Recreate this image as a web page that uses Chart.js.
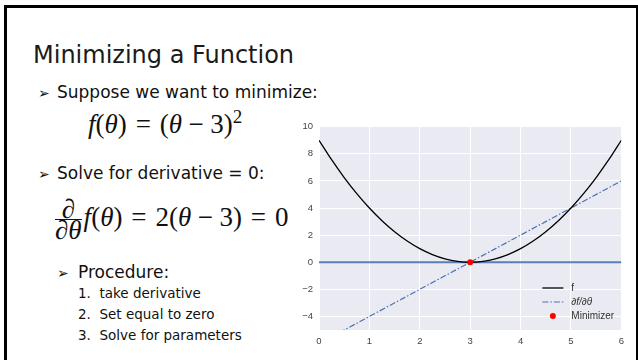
<!DOCTYPE html>
<html>
<head>
<meta charset="utf-8">
<script src="https://cdn.jsdelivr.net/npm/chart.js@4.4.1/dist/chart.umd.min.js"></script>
<style>
  html, body { margin: 0; padding: 0; background: #fff; }
  body { width: 638px; height: 360px; position: relative; overflow: hidden; font-family: "DejaVu Sans", sans-serif; color: #111; }
  .frame { position: absolute; left: 4px; top: 5px; width: 629px; height: 400px; border-left: 3px solid #000; border-top: 3px solid #000; border-right: 2px solid #000; }
  .t { position: absolute; white-space: nowrap; line-height: 1; }
  .title { left: 33px; top: 43px; font-size: 24px; color: #1a1a1a; }
  .b { font-size: 17px; }
  .arrow { position: absolute; font-size: 14px; line-height: 1; }
  .m { font-family: "Liberation Serif", serif; font-size: 27px; }
  .m i { font-style: italic; }
  .rel { margin: 0 0.33em; }
  .bin { margin: 0 0.24em; }
  .li { font-size: 13.5px; }
  .frac { display: inline-block; vertical-align: middle; text-align: center; margin-right: 2px; }
  .frac span { display: block; line-height: 20px; }
  .frac .num { border-bottom: 1px solid #111; }
  #plot { position: absolute; left: 290px; top: 115px; }
</style>
</head>
<body>
<div class="frame"></div>
<div class="t title">Minimizing a Function</div>
<div class="t arrow" style="left:38px;top:86px;">&#x27A2;</div>
<div class="t b" style="left:57px;top:84px;">Suppose we want to minimize:</div>
<div class="t m" style="left:88px;top:107px;"><i>f</i>(<i>θ</i>)<span class="rel">=</span>(<i>θ</i><span class="bin">−</span>3)<sup style="font-size:19px;">2</sup></div>
<div class="t arrow" style="left:38px;top:167px;">&#x27A2;</div>
<div class="t b" style="left:57px;top:165px;">Solve for derivative = 0:</div>
<div class="t m" style="left:55px;top:199px;"><span class="frac"><span class="num">∂</span><span><i>∂θ</i></span></span><i>f</i>(<i>θ</i>)<span class="rel">=</span>2(<i>θ</i><span class="bin">−</span>3)<span class="rel">=</span>0</div>
<div class="t arrow" style="left:57px;top:266px;">&#x27A2;</div>
<div class="t b" style="left:78px;top:264px;">Procedure:</div>
<div class="t li" style="left:78px;top:287px;">1.&nbsp;&nbsp;take derivative</div>
<div class="t li" style="left:78px;top:308px;">2.&nbsp;&nbsp;Set equal to zero</div>
<div class="t li" style="left:78px;top:329px;">3.&nbsp;&nbsp;Solve for parameters</div>
<canvas id="plot" width="340" height="235"></canvas>
<script>
// parameter grid and loss values f(theta) = (theta - 3)^2
const theta = [0, 0.25, 0.5, 0.75, 1, 1.25, 1.5, 1.75, 2, 2.25, 2.5, 2.75, 3,
               3.25, 3.5, 3.75, 4, 4.25, 4.5, 4.75, 5, 5.25, 5.5, 5.75, 6];
const fVals = [9, 7.5625, 6.25, 5.0625, 4, 3.0625, 2.25, 1.5625, 1, 0.5625, 0.25, 0.0625, 0,
               0.0625, 0.25, 0.5625, 1, 1.5625, 2.25, 3.0625, 4, 5.0625, 6.25, 7.5625, 9];
// derivative 2(theta - 3), a straight line
const dTheta = [0, 6];
const dVals = [-6, 6];
// horizontal zero line
const zeroTheta = [0, 6];
const zeroVals = [0, 0];
// minimizer point
const minTheta = [3];
const minVals = [0];

const xTicks = [0, 1, 2, 3, 4, 5, 6];
const yTicks = [-4, -2, 0, 2, 4, 6, 8, 10];

const pts = (xs, ys) => xs.map((x, i) => ({ x: x, y: ys[i] }));

const plotBg = {
    id: 'plotBg',
    beforeDraw(chart) {
        const { ctx, chartArea: a } = chart;
        ctx.save();
        ctx.fillStyle = '#EAEAF2';
        ctx.fillRect(a.left, a.top, a.right - a.left, a.bottom - a.top);
        ctx.restore();
    }
};

// legend drawn inside the plot, lower right
const innerLegend = {
    id: 'innerLegend',
    afterDraw(chart) {
        const { ctx, chartArea: a } = chart;
        const ds = chart.data.datasets;
        const x0 = a.right - 79, x1 = a.right - 58, tx = a.right - 50;
        const rows = [a.bottom - 42, a.bottom - 28, a.bottom - 14];
        ctx.save();
        ctx.textBaseline = 'middle';
        [0, 1, 3].forEach((di, r) => {
            const d = ds[di];
            const y = rows[r];
            if (d.showLine === false) {
                ctx.beginPath();
                ctx.fillStyle = d.backgroundColor;
                ctx.arc((x0 + x1) / 2, y, d.pointRadius, 0, Math.PI * 2);
                ctx.fill();
            } else {
                ctx.beginPath();
                ctx.strokeStyle = d.borderColor;
                ctx.lineWidth = d.borderWidth;
                ctx.setLineDash(d.borderDash || []);
                ctx.moveTo(x0, y);
                ctx.lineTo(x1, y);
                ctx.stroke();
                ctx.setLineDash([]);
            }
            ctx.fillStyle = '#333';
            ctx.font = (d.legendItalic ? 'italic ' : '') + '10px "Liberation Sans", Arial, sans-serif';
            ctx.fillText(d.label, tx, y);
        });
        ctx.restore();
    }
};

new Chart(document.getElementById('plot'), {
    type: 'line',
    plugins: [plotBg, innerLegend],
    data: {
        datasets: [
            { label: 'f', data: pts(theta, fVals), borderColor: '#000', borderWidth: 1.3, pointRadius: 0, tension: 0.3, order: 1 },
            { label: '∂f/∂θ', legendItalic: true, data: pts(dTheta, dVals), borderColor: '#4C72B0', borderWidth: 1.2, borderDash: [6, 2, 1.5, 2], pointRadius: 0, order: 2 },
            { label: 'zero', data: pts(zeroTheta, zeroVals), borderColor: '#5B7FB4', borderWidth: 2, pointRadius: 0, order: 3 },
            { label: 'Minimizer', data: pts(minTheta, minVals), showLine: false, pointRadius: 3, backgroundColor: '#FF0000', borderWidth: 0, order: 0 }
        ]
    },
    options: {
        responsive: false,
        animation: false,
        devicePixelRatio: 1,
        layout: { padding: { top: 8, right: 8, left: 0, bottom: 0 } },
        plugins: { legend: { display: false }, tooltip: { enabled: false } },
        scales: {
            x: {
                type: 'linear', min: 0, max: 6,
                afterBuildTicks: (s) => { s.ticks = xTicks.map(v => ({ value: v })); },
                afterFit: (s) => { s.height = 20; },
                grid: { color: '#fff', lineWidth: 1, drawTicks: false },
                border: { display: false },
                ticks: { color: '#444', padding: 6, font: { family: '"Liberation Sans", Arial', size: 9.5 } }
            },
            y: {
                type: 'linear', min: -5, max: 10,
                afterBuildTicks: (s) => { s.ticks = yTicks.map(v => ({ value: v })); },
                afterFit: (s) => { s.width = 29; },
                grid: { color: '#fff', lineWidth: 1, drawTicks: false },
                border: { display: false },
                ticks: {
                    color: '#444', padding: 6, font: { family: '"Liberation Sans", Arial', size: 9.5 },
                    callback: (v) => String(v).replace('-', '\u2212')
                }
            }
        }
    }
});
</script>
</body>
</html>
